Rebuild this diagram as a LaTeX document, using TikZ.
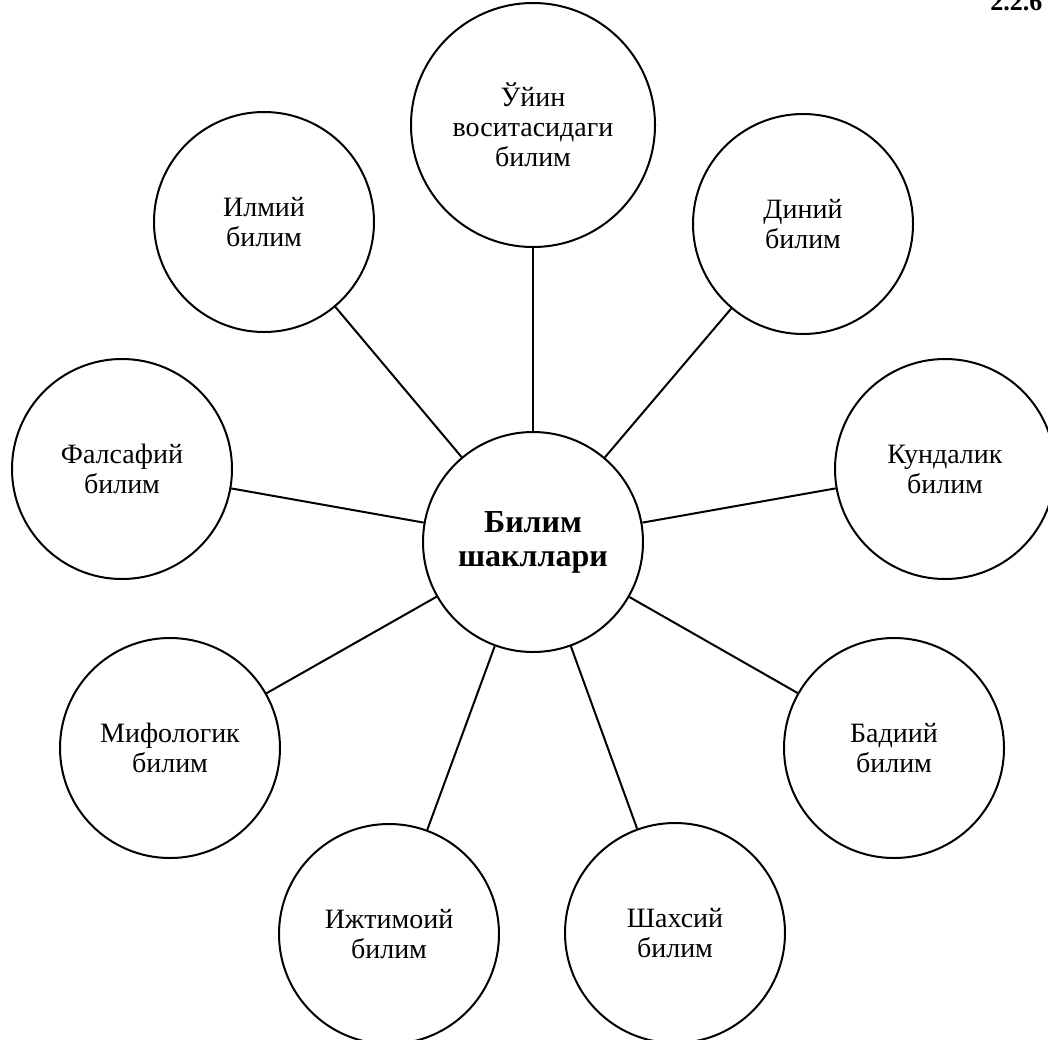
\documentclass[tikz,border=0pt]{standalone}
\usepackage{fontspec}
\setmainfont{Liberation Serif}
\begin{document}
\begin{tikzpicture}[x=1pt,y=-1pt,
  bub/.style={circle,draw=black,line width=2pt,fill=white,inner sep=0pt,align=center,
    minimum size=220pt,font=\fontsize{28}{30}\selectfont},
  link/.style={draw=black,line width=2pt}]
\clip (0,0) rectangle (1048,1039);
\useasboundingbox (0,0) rectangle (1048,1039);
\node[bub,font=\fontsize{32}{34}\selectfont\bfseries] (c) at (533,542) {Билим\\шакллари};
\node[bub,minimum size=244pt] (t) at (533,125) {Ўйин\\воситасидаги\\билим};
\node[bub] (il) at (264,222) {Илмий\\билим};
\node[bub] (di) at (803,224) {Диний\\билим};
\node[bub] (fa) at (122,469) {Фалсафий\\билим};
\node[bub] (ku) at (945,469) {Кундалик\\билим};
\node[bub] (mi) at (170,748) {Мифологик\\билим};
\node[bub] (ba) at (894,748) {Бадиий\\билим};
\node[bub] (ij) at (389,934) {Ижтимоий\\билим};
\node[bub] (sh) at (675,933) {Шахсий\\билим};
\foreach \n in {t,il,di,fa,ku,mi,ba,ij,sh} \draw[link] (c) -- (\n);
\node[font=\fontsize{26}{30}\selectfont\bfseries,anchor=base east] (num) at (1046,10) {2.2.6};
\end{tikzpicture}
\end{document}
